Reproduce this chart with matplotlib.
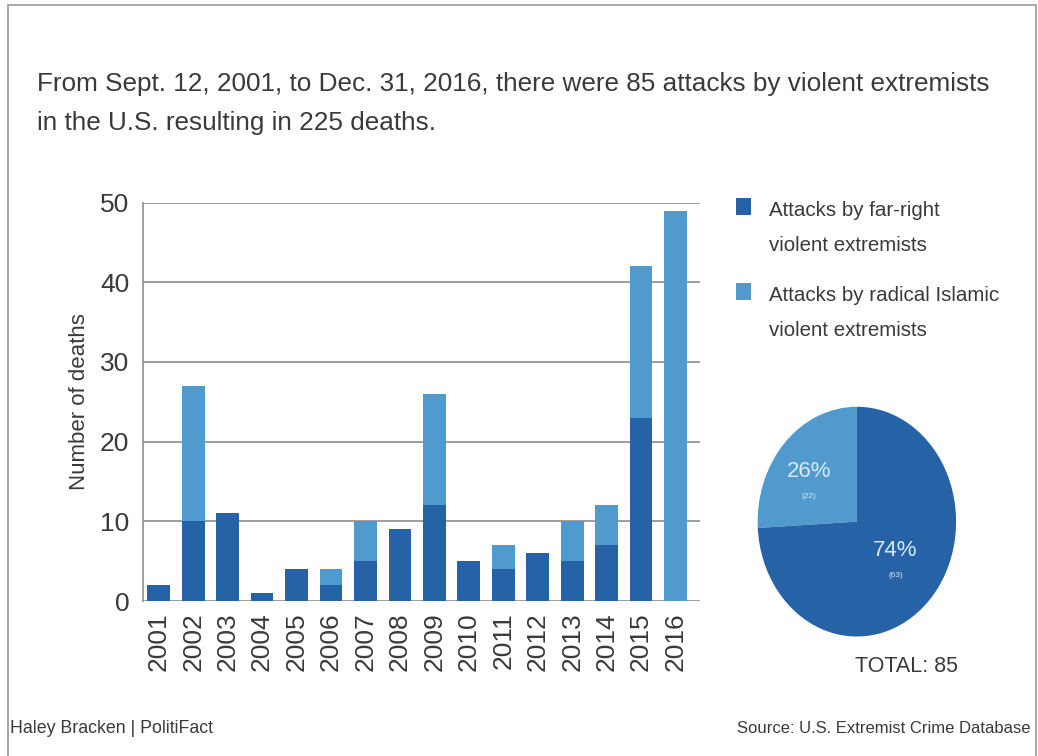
import matplotlib.pyplot as plt
import matplotlib as mpl
from matplotlib.patches import Rectangle

mpl.rcParams['font.family'] = ['Liberation Sans', 'DejaVu Sans']

# data
years = ['2001', '2002', '2003', '2004', '2005', '2006', '2007', '2008',
         '2009', '2010', '2011', '2012', '2013', '2014', '2015', '2016']
far_right = [2, 10, 11, 1, 4, 2, 5, 9, 12, 5, 4, 6, 5, 7, 23, 0]
islamic = [0, 17, 0, 0, 0, 2, 5, 0, 14, 0, 3, 0, 5, 5, 19, 49]
pie_labels = ['26%', '74%']
pie_counts = [22, 63]
series_names = ['Attacks by far-right\nviolent extremists',
                'Attacks by radical Islamic\nviolent extremists']

dark = '#2563a6'
light = '#519acd'
txt = '#3a3a3a'

fig = plt.figure(figsize=(10.38, 7.56), dpi=100)
fig.patch.set_facecolor('white')
fig.add_artist(Rectangle((0.008, -0.01), 0.99, 1.003, transform=fig.transFigure,
                         fill=False, ec='#9a9a9a', lw=1.2))

fig.text(0.036, 0.863, 'From Sept. 12, 2001, to Dec. 31, 2016, there were 85 attacks by violent extremists\n'
         'in the U.S. resulting in 225 deaths.', fontsize=18.8, color=txt, va='center',
         ha='left', linespacing=1.75)

# bar chart
ax = fig.add_axes([0.138, 0.205, 0.536, 0.527])
xs = list(range(len(years)))
ax.bar(xs, far_right, 0.66, color=dark, zorder=3)
ax.bar(xs, islamic, 0.66, bottom=far_right, color=light, zorder=3)
ax.set_ylim(0, 50)
ax.set_xlim(-0.45, 15.7)
ax.set_yticks([0, 10, 20, 30, 40, 50])
ax.grid(True, axis='y', color='#959595', lw=1.3, zorder=0)
for s in ['top', 'right', 'bottom']:
  ax.spines[s].set_visible(False)
ax.spines['left'].set_color('#959595')
ax.spines['left'].set_linewidth(1.3)
ax.set_xticks(xs)
ax.set_xticklabels(years, rotation=90, fontsize=19, color=txt)
ax.tick_params(axis='x', length=0, pad=8)
ax.tick_params(axis='y', length=0, pad=10, labelsize=19, labelcolor=txt)
ax.set_ylabel('Number of deaths', fontsize=16, color=txt)
ax.yaxis.set_label_coords(-0.095, 0.5)

# legend, drawn by hand so the swatch sits by the first line
for i, (name, col) in enumerate(zip(series_names, [dark, light])):
  y0 = 0.716 - i * 0.1125
  fig.add_artist(Rectangle((0.709, y0), 0.0145, 0.022, transform=fig.transFigure,
                           color=col, lw=0))
  fig.text(0.741, y0 + 0.018, name, fontsize=14.8, color=txt, va='top', ha='left',
           linespacing=2.05)

# pie
pax = fig.add_axes([0.728, 0.155, 0.195, 0.31])
wedges, _ = pax.pie(pie_counts, colors=[light, dark], startangle=90, counterclock=True,
                    wedgeprops=dict(lw=0))
pax.set_aspect('auto')
pax.set_xlim(-1.02, 1.02)
pax.set_ylim(-1.02, 1.02)
pax.text(-0.48, 0.44, pie_labels[0], ha='center', va='center', fontsize=16, color='#d8e8f5')
pax.text(-0.48, 0.22, '(%d)' % pie_counts[0], ha='center', va='center', fontsize=6, color='#d8e8f5')
pax.text(0.39, -0.25, pie_labels[1], ha='center', va='center', fontsize=16, color='#d8e8f5')
pax.text(0.39, -0.47, '(%d)' % pie_counts[1], ha='center', va='center', fontsize=6, color='#d8e8f5')
fig.text(0.873, 0.118, 'TOTAL: %d' % sum(pie_counts), ha='center', va='center', fontsize=15.5, color=txt)

fig.text(0.010, 0.037, 'Haley Bracken | PolitiFact', fontsize=12.8, color=txt, va='center')
fig.text(0.993, 0.037, 'Source: U.S. Extremist Crime Database', fontsize=12, color=txt,
         va='center', ha='right')

fig.savefig('out.png', dpi=100)
